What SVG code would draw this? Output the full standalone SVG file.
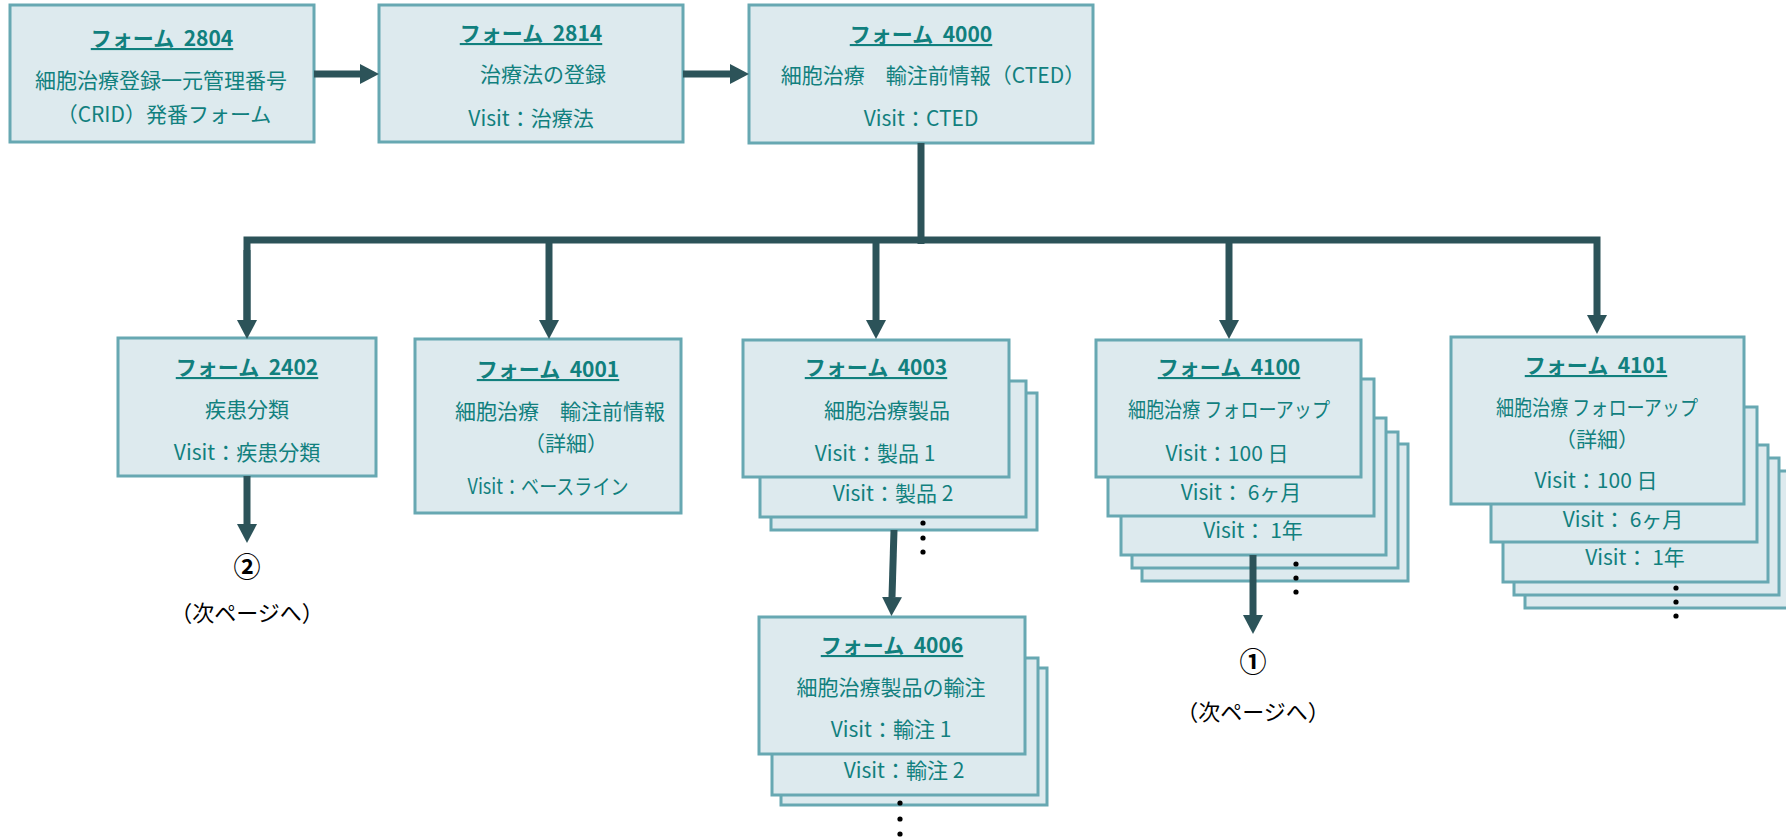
<svg xmlns="http://www.w3.org/2000/svg" width="1786" height="837" viewBox="0 0 1786 837">
<style>
.box{fill:#ddeaee;stroke:#67a8b2;stroke-width:3}
.t{font-family:"Noto Sans CJK JP","Noto Sans",sans-serif;font-size:21px;fill:#11807e;text-anchor:middle}
.h{font-weight:bold;text-decoration:underline}
.k{font-family:"Noto Sans CJK JP","Noto Sans",sans-serif;font-size:22px;fill:#000;text-anchor:middle}
.n{font-size:27px;font-weight:bold}
.dot{fill:#000}
.c{fill:none;stroke:#2c5359;stroke-width:7;stroke-linejoin:miter}
</style>
<defs>
<marker id="ah" viewBox="0 0 19 20" refX="0" refY="10" markerWidth="19" markerHeight="20" markerUnits="userSpaceOnUse" orient="auto">
<path d="M0,0 L19,10 L0,20 Z" fill="#2c5359"/>
</marker>
</defs>

<g id="n2804">
<rect class="box" x="10" y="5" width="304" height="137"/>
<text class="t h" x="162" y="46" xml:space="preserve">フォーム  2804</text>
<text class="t" x="161" y="88">細胞治療登録一元管理番号</text>
<text class="t" x="164" y="122">（CRID）発番フォーム</text>
</g>

<g id="n2814">
<rect class="box" x="379" y="5" width="304" height="137"/>
<text class="t h" x="531" y="41" xml:space="preserve">フォーム  2814</text>
<text class="t" x="543" y="82">治療法の登録</text>
<text class="t" x="531" y="126">Visit：治療法</text>
</g>

<g id="n4000">
<rect class="box" x="749" y="5" width="344" height="138"/>
<text class="t h" x="921" y="42" xml:space="preserve">フォーム  4000</text>
<text class="t" x="933" y="83">細胞治療　輸注前情報（CTED）</text>
<text class="t" x="921" y="126">Visit：CTED</text>
</g>

<g id="n2402">
<rect class="box" x="118" y="338" width="258" height="138"/>
<text class="t h" x="247" y="375" xml:space="preserve">フォーム  2402</text>
<text class="t" x="247" y="417">疾患分類</text>
<text class="t" x="247" y="460">Visit：疾患分類</text>
</g>

<g id="n4001">
<rect class="box" x="415" y="339" width="266" height="174"/>
<text class="t h" x="548" y="377" xml:space="preserve">フォーム  4001</text>
<text class="t" x="560" y="419">細胞治療　輸注前情報</text>
<text class="t" x="566" y="451">（詳細）</text>
<text class="t" x="548" y="494" textLength="161" lengthAdjust="spacingAndGlyphs">Visit：ベースライン</text>
</g>

<g id="n4003">
<rect class="box" x="771" y="393" width="266" height="137"/>
<rect class="box" x="760" y="381" width="266" height="136"/>
<text class="t" x="893" y="501">Visit：製品 2</text>
<rect class="box" x="743" y="340" width="266" height="137"/>
<text class="t h" x="876" y="375" xml:space="preserve">フォーム  4003</text>
<text class="t" x="887" y="418">細胞治療製品</text>
<text class="t" x="875" y="461">Visit：製品 1</text>
<circle class="dot" cx="923" cy="523" r="2.6"/>
<circle class="dot" cx="923" cy="538" r="2.6"/>
<circle class="dot" cx="923" cy="552" r="2.6"/>
</g>

<g id="n4006">
<rect class="box" x="781" y="668" width="266" height="137"/>
<rect class="box" x="772" y="658" width="266" height="137"/>
<text class="t" x="904" y="778">Visit：輸注 2</text>
<rect class="box" x="759" y="617" width="266" height="137"/>
<text class="t h" x="892" y="653" xml:space="preserve">フォーム  4006</text>
<text class="t" x="891" y="695">細胞治療製品の輸注</text>
<text class="t" x="891" y="737">Visit：輸注 1</text>
<circle class="dot" cx="900" cy="803" r="2.6"/>
<circle class="dot" cx="900" cy="819" r="2.6"/>
<circle class="dot" cx="900" cy="834" r="2.6"/>
</g>

<g id="n4100">
<rect class="box" x="1142" y="444" width="266" height="137"/>
<rect class="box" x="1132" y="432" width="266" height="136"/>
<rect class="box" x="1121" y="418" width="265" height="137"/>
<text class="t" x="1253" y="538">Visit： 1年</text>
<rect class="box" x="1108" y="379" width="266" height="137"/>
<text class="t" x="1241" y="500">Visit： 6ヶ月</text>
<rect class="box" x="1096" y="340" width="265" height="137"/>
<text class="t h" x="1229" y="375" xml:space="preserve">フォーム  4100</text>
<text class="t" x="1229" y="417" textLength="202" lengthAdjust="spacingAndGlyphs">細胞治療 フォローアップ</text>
<text class="t" x="1227" y="461">Visit：100 日</text>
<circle class="dot" cx="1296" cy="564" r="2.6"/>
<circle class="dot" cx="1296" cy="578" r="2.6"/>
<circle class="dot" cx="1296" cy="592" r="2.6"/>
</g>

<g id="n4101">
<rect class="box" x="1525" y="471" width="266" height="137"/>
<rect class="box" x="1514" y="458" width="265" height="137"/>
<rect class="box" x="1503" y="445" width="265" height="137"/>
<text class="t" x="1635" y="565">Visit： 1年</text>
<rect class="box" x="1491" y="407" width="266" height="135"/>
<text class="t" x="1623" y="527">Visit： 6ヶ月</text>
<rect class="box" x="1451" y="337" width="293" height="167"/>
<text class="t h" x="1596" y="373" xml:space="preserve">フォーム  4101</text>
<text class="t" x="1597" y="415" textLength="202" lengthAdjust="spacingAndGlyphs">細胞治療 フォローアップ</text>
<text class="t" x="1597" y="447">（詳細）</text>
<text class="t" x="1596" y="488">Visit：100 日</text>
<circle class="dot" cx="1676" cy="588" r="2.6"/>
<circle class="dot" cx="1676" cy="602" r="2.6"/>
<circle class="dot" cx="1676" cy="616" r="2.6"/>
</g>

<g id="next2">
<text class="k n" x="247" y="577">②</text>
<text class="k" x="247" y="621">（次ページへ）</text>
</g>
<g id="next1">
<text class="k n" x="1253" y="672">①</text>
<text class="k" x="1253" y="720">（次ページへ）</text>
</g>

<g id="connectors">
<path class="c" d="M314,74 H360" marker-end="url(#ah)"/>
<path class="c" d="M683,74 H730" marker-end="url(#ah)"/>
<path class="c" d="M921,143 V244"/>
<path class="c" d="M247,320 V240 H1597 V315" marker-end="url(#ah)"/>
<path class="c" d="M247,250 V320" marker-end="url(#ah)"/>
<path class="c" d="M549,240 V320" marker-end="url(#ah)"/>
<path class="c" d="M876,240 V320" marker-end="url(#ah)"/>
<path class="c" d="M1229,240 V320" marker-end="url(#ah)"/>
<path class="c" d="M247,476 V524" marker-end="url(#ah)"/>
<path class="c" d="M894,530 L892,597" marker-end="url(#ah)"/>
<path class="c" d="M1253,555 V615" marker-end="url(#ah)"/>
</g>
</svg>
